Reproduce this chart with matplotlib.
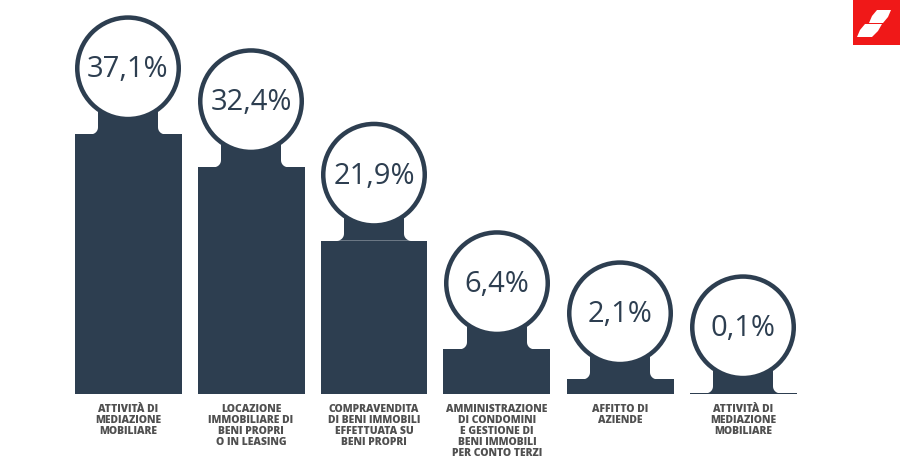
import matplotlib
matplotlib.use("Agg")
import matplotlib.pyplot as plt
from matplotlib.patches import Ellipse, Polygon, Rectangle
import numpy as np

# ---- data ----
categories = [
    "ATTIVITÀ DI\nMEDIAZIONE\nMOBILIARE",
    "LOCAZIONE\nIMMOBILIARE DI\nBENI PROPRI\nO IN LEASING",
    "COMPRAVENDITA\nDI BENI IMMOBILI\nEFFETTUATA SU\nBENI PROPRI",
    "AMMINISTRAZIONE\nDI CONDOMINI\nE GESTIONE DI\nBENI IMMOBILI\nPER CONTO TERZI",
    "AFFITTO DI\nAZIENDE",
    "ATTIVITÀ DI\nMEDIAZIONE\nMOBILIARE",
]
values = [37.1, 32.4, 21.9, 6.4, 2.1, 0.1]
value_labels = ["37,1%", "32,4%", "21,9%", "6,4%", "2,1%", "0,1%"]

NAVY = "#2d3e50"
GRAY = "#505050"
RED = "#f01818"

W, H = 900, 471
fig = plt.figure(figsize=(W / 100, H / 100), dpi=100)
ax = fig.add_axes([0, 0, 1, 1])

# pixel scale: one category = 123 px, 1% = 7 px
SX, SY = 123.0, 7.0
x0_px, base_px = 128.0, 394.0  # first bar centre, baseline (from top)
ax.set_xlim(-x0_px / SX, (W - x0_px) / SX)
ax.set_ylim(-(H - base_px) / SY, base_px / SY)
ax.axis("off")

x = np.arange(len(values))
bar_w = 107.0 / SX
ax.bar(x, values, width=bar_w, color=NAVY, zorder=2)

R_out = 53.0
lw_px = 4.5
r_path = R_out - lw_px / 2
c_off = 66.0  # circle centre above bar top, px
hw, rf = 30.0, 7.0  # neck half width, fillet radius

for i, (v, lab) in enumerate(zip(values, value_labels)):
    pts = []
    th = np.linspace(-np.pi / 2, 0, 12)
    pts += [(-(hw + rf) + rf * np.cos(t), rf + rf * np.sin(t)) for t in th]
    pts += [(-hw, c_off), (hw, c_off)]
    th2 = np.linspace(np.pi, 3 * np.pi / 2, 12)
    pts += [((hw + rf) + rf * np.cos(t), rf + rf * np.sin(t)) for t in th2]
    poly = [(i + px / SX, v + py / SY) for px, py in pts]
    ax.add_patch(Polygon(poly, closed=True, facecolor=NAVY, edgecolor="none", zorder=3))
    cy = v + c_off / SY
    ax.add_patch(Ellipse((i, cy), 2 * r_path / SX, 2 * r_path / SY,
                         facecolor="white", edgecolor=NAVY,
                         linewidth=lw_px * 0.72, zorder=4))
    ax.text(i, cy - 1.5 / SY, lab, ha="center", va="center", fontsize=21,
            family="Open Sans", color=NAVY, zorder=5)
    ax.text(i, -(404 - base_px) / SY, categories[i], ha="center", va="top",
            fontsize=7.5, family="Open Sans", fontweight=800,
            color=GRAY, linespacing=1.0, zorder=5)

# logo (top-right)
def fp(px, py):
    return (px / W, 1 - py / H)

ax.add_patch(Rectangle(fp(853, 45), 47 / W, 45 / H, transform=fig.transFigure,
                       facecolor=RED, edgecolor="none", zorder=6))
upper = [fp(869, 23), fp(872, 16), fp(877, 10), fp(891, 10), fp(888, 17), fp(883, 23)]
lower = [fp(857, 37), fp(860, 30), fp(865, 24), fp(882, 24), fp(878, 31), fp(872, 37)]
for shp in (upper, lower):
    ax.add_patch(Polygon(shp, closed=True, transform=fig.transFigure,
                         facecolor="white", edgecolor="none", zorder=7))

fig.savefig("out.png", dpi=100, facecolor="white")
